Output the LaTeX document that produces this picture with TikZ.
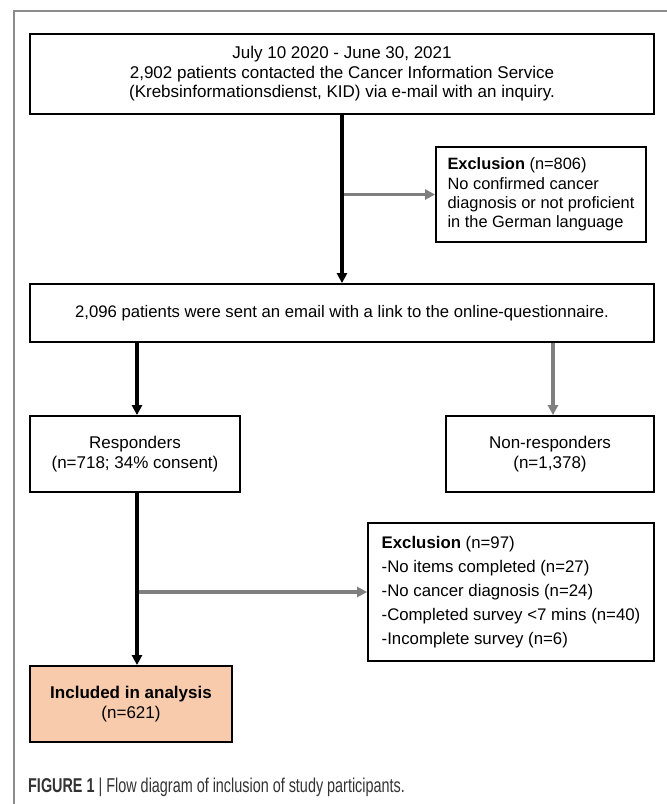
\documentclass[tikz,border=0pt]{standalone}
\usepackage{fontspec}
\setmainfont{Liberation Sans}
\usetikzlibrary{arrows.meta}
\definecolor{peach}{HTML}{F8CBAD}
\definecolor{arrgray}{HTML}{7F7F7F}
\definecolor{framegray}{HTML}{8C8C8C}
\definecolor{captext}{HTML}{333333}
\tikzset{
  boxnode/.style={draw=black, line width=1.8pt, fill=white, inner sep=0pt, align=center,
    font=\fontsize{17}{19.5}\selectfont},
  blackarrow/.style={draw=black, line width=3.2pt, -{Triangle[length=10pt,width=10pt]}},
  grayarrow/.style={draw=arrgray, line width=3.2pt, -{Triangle[length=10pt,width=10pt]}}
}
\begin{document}
\begin{tikzpicture}[x=1pt,y=-1pt]
\useasboundingbox (0,0) rectangle (667,804);
% outer frame lines
\draw[framegray, line width=1.2pt] (14,804) -- (14,11) -- (667,11);

\node[boxnode, minimum width=624pt, minimum height=80pt] (top) at (342,74)
  {July 10 2020 - June 30, 2021\\2,902 patients contacted the Cancer Information Service\\(Krebsinformationsdienst, KID) via e-mail with an inquiry.};

\node[boxnode, align=left, minimum width=210pt, minimum height=95pt,
  font=\fontsize{16.4}{19.4}\selectfont] (ex1) at (541,194.5)
  {\textbf{Exclusion} (n=806)\\No confirmed cancer\\diagnosis or not proficient\\in the German language};

\node[boxnode, minimum width=624pt, minimum height=58pt, font=\fontsize{16.7}{19.5}\selectfont] (sent) at (342,313)
  {2,096 patients were sent an email with a link to the online-questionnaire.};

\node[boxnode, minimum width=210pt, minimum height=76pt] (resp) at (135,454)
  {Responders\\(n=718; 34\% consent)};

\node[boxnode, minimum width=208pt, minimum height=76pt] (nonresp) at (550,454)
  {Non-responders\\(n=1,378)};

\node[boxnode, align=left, minimum width=286pt, minimum height=138pt,
  font=\fontsize{16.8}{24}\selectfont] (ex2) at (511,592)
  {\textbf{Exclusion} (n=97)\\-No items completed (n=27)\\-No cancer diagnosis (n=24)\\-Completed survey <7 mins (n=40)\\-Incomplete survey (n=6)};

\node[boxnode, fill=peach, minimum width=202pt, minimum height=76pt] (incl) at (131,704)
  {\textbf{Included in analysis}\\(n=621)};

% connectors
\coordinate (j1) at (top.south |- ex1.west);
\draw[grayarrow] (j1) -- (ex1.west);
\draw[blackarrow] (top.south) -- (sent.north);

\coordinate (rtop) at (137,342);
\draw[blackarrow] (sent.south -| rtop) -- (resp.north -| rtop);
\coordinate (ntop) at (553,342);
\draw[grayarrow] (sent.south -| ntop) -- (nonresp.north -| ntop);

\coordinate (j2) at (rtop |- ex2.west);
\draw[grayarrow] (j2) -- (ex2.west);
\draw[blackarrow] (resp.south -| rtop) -- (incl.north -| rtop);

% caption
\node[anchor=west, inner sep=0pt, text=captext] (cap) at (28,787)
  {\scalebox{0.72}[1]{\fontsize{20}{23}\selectfont\textbf{FIGURE 1} | Flow diagram of inclusion of study participants.}};
\end{tikzpicture}
\end{document}
